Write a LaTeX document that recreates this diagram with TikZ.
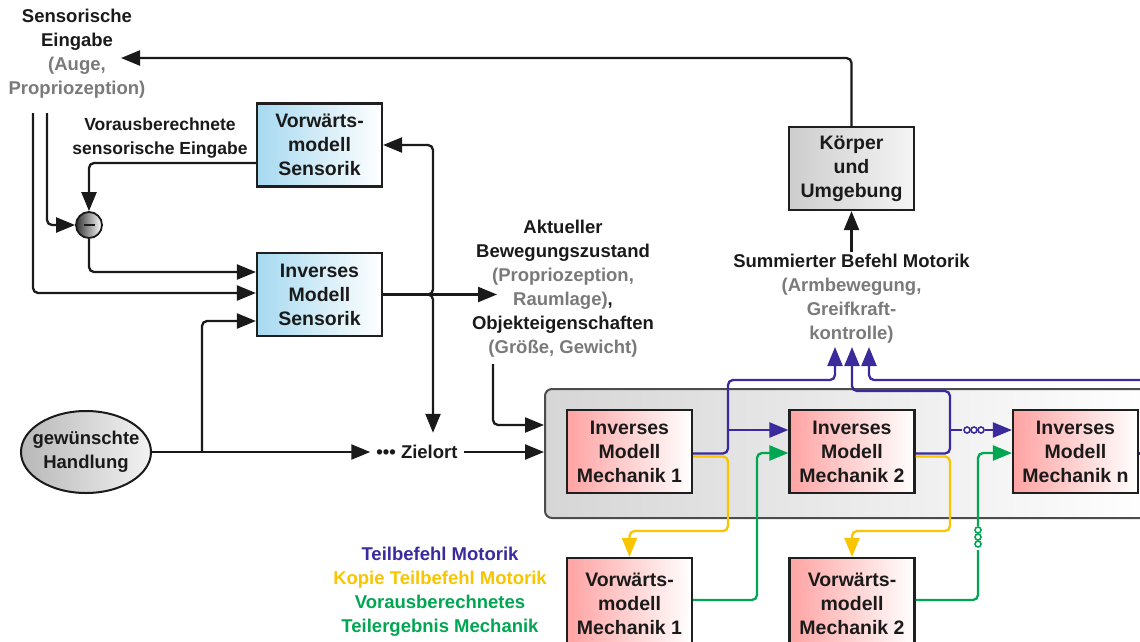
\documentclass[tikz,border=0pt]{standalone}
\usepackage{fontspec}
\setmainfont{Liberation Sans}
\usetikzlibrary{arrows.meta,shapes.geometric}
\definecolor{txt}{HTML}{1A1A1A}
\definecolor{gtxt}{HTML}{7A7A7A}
\definecolor{bl}{HTML}{3A2A9C}
\definecolor{ye}{HTML}{F8C500}
\definecolor{gr}{HTML}{00A651}
\definecolor{lblue}{HTML}{A6D9F0}
\definecolor{lpink}{HTML}{FFA3A3}
\definecolor{lgray}{HTML}{CDCDCD}
\definecolor{cgray}{HTML}{D6D6D6}
\begin{document}
\begin{tikzpicture}[x=1pt,y=-1pt,
 every node/.style={font=\fontsize{18.5}{24}\selectfont\bfseries, text=txt, align=center},
 box/.style={draw=black!88, line width=2.2pt, minimum width=125pt, minimum height=83pt, inner sep=0pt, font=\fontsize{19.5}{24}\selectfont\bfseries},
 bluebox/.style={box, left color=lblue, right color=white},
 pinkbox/.style={box, left color=lpink, right color=white},
 graybox/.style={box, left color=lgray, right color=white!96!black},
 tip/.style={-{Triangle[length=19pt,width=15pt]}},
 con/.style={line width=2.3pt, draw=txt, rounded corners=5pt},
 arr/.style={con, tip},
 bline/.style={line width=2.3pt, draw=bl, rounded corners=5pt},
 barr/.style={bline, tip},
 yline/.style={line width=2.3pt, draw=ye, rounded corners=5pt},
 yarr/.style={yline, tip},
 gline/.style={line width=2.3pt, draw=gr, rounded corners=5pt},
 garr/.style={gline, tip},
 bdot/.style={circle, draw=bl, fill=white, line width=1.6pt, minimum size=6pt, inner sep=0pt},
 gdot/.style={circle, draw=gr, fill=white, line width=1.6pt, minimum size=6pt, inner sep=0pt},
]
\clip (0,0) rectangle (1140,641);
\fill[white] (0,0) rectangle (1140,641);

% container
\node[draw=black!70, line width=2pt, rounded corners=7pt, minimum width=610pt, minimum height=129pt, left color=cgray, right color=white] (cont) at (850,453.5) {};

% boxes
\node[bluebox] (vs) at (319.5,145) {Vorwärts-\\modell\\Sensorik};
\node[bluebox] (is) at (319.5,294.5) {Inverses\\Modell\\Sensorik};
\node[graybox] (koe) at (851.5,168.5) {Körper\\und\\Umgebung};
\node[pinkbox] (im1) at (629.5,451.5) {Inverses\\Modell\\Mechanik 1};
\node[pinkbox] (im2) at (852,451.5) {Inverses\\Modell\\Mechanik 2};
\node[pinkbox] (imn) at (1075.5,451.5) {Inverses\\Modell\\Mechanik n};
\node[pinkbox, minimum height=92pt] (vm1) at (629.5,604) {Vorwärts-\\modell\\Mechanik 1};
\node[pinkbox, minimum height=92pt] (vm2) at (852,604) {Vorwärts-\\modell\\Mechanik 2};

\node[ellipse, draw=txt, line width=2pt, left color=black!28, right color=black!5, minimum width=130pt, minimum height=82pt, inner xsep=-14pt, inner ysep=0pt] (hand) at (86,452) {gewünschte\\Handlung};
\node[circle, draw=txt, line width=1.8pt, minimum size=26pt, inner sep=0pt, left color=black!80, right color=white] (minus) at (89,225) {\textcolor{txt}{\rule{11pt}{2.4pt}}};

% labels
\node (sens) at (77,54) {Sensorische\\Eingabe\\\textcolor{gtxt}{(Auge,}\\\textcolor{gtxt}{Propriozeption)}};
\node[font=\fontsize{17.5}{24}\selectfont\bfseries] (vor) at (160,138) {Vorausberechnete\\sensorische Eingabe};
\node (akt) at (563,288.5) {Aktueller\\Bewegungszustand\\\textcolor{gtxt}{(Propriozeption,}\\\textcolor{gtxt}{Raumlage)},\\Objekteigenschaften\\\textcolor{gtxt}{(Größe, Gewicht)}};
\node (sum) at (851.5,299) {Summierter Befehl Motorik\\\textcolor{gtxt}{(Armbewegung,}\\\textcolor{gtxt}{Greifkraft-}\\\textcolor{gtxt}{kontrolle)}};
\node (leg) at (440,591.5) {\textcolor{bl}{Teilbefehl Motorik}\\\textcolor{ye}{Kopie Teilbefehl Motorik}\\\textcolor{gr}{Vorausberechnetes}\\\textcolor{gr}{Teilergebnis Mechanik}};
\node[minimum height=38pt, inner xsep=6pt, inner ysep=0pt] (ziel) at (417,452) {••• Zielort};

% coordinates
\coordinate (sensArr) at (121,58);
\coordinate (s1) at (33,113);
\coordinate (s2) at (47,113);
\coordinate (br) at (202,452);
\coordinate (jn) at (433,294.5);
\coordinate (aktArr) at (497,294.5);
\coordinate (aktL) at (493,364);
\coordinate (sumTop) at (851.5,252);
\coordinate (sumIn) at (852,347);

% black connectors
\draw[arr] (koe.north) |- (sensArr);
\draw[arr] (s1) |- ([yshift=1.5pt]is.west);
\draw[arr] (s2) |- (minus.west);
\draw[arr] ([yshift=-18pt]vs.west) -| (minus.north);
\draw[arr] (minus.south) |- ([yshift=22.5pt]is.west);
\draw[arr] (hand.east) -- (ziel.west);
\draw[arr] (br) |- ([yshift=-26.5pt]is.west);
\draw[arr] (ziel.east) -- (ziel.east -| cont.west);
\draw[arr] (is.east) -- (aktArr);
\draw[arr] (is.east) -- (jn) |- (vs.east);
\draw[arr] (is.east) -- (jn) -- (jn |- ziel.north);
\draw[arr] (aktL) |- ([yshift=28.5pt]cont.west);
\draw[arr] (sumTop) -- (koe.south);

% yellow
\draw[yarr] ([yshift=-5pt]im1.east) -- (728,456.5) -- (728,531) -- (629.5,531) -- (vm1.north);
\draw[yarr] ([yshift=-5pt]im2.east) -- (950,456.5) -- (950,531) -- (852,531) -- (vm2.north);

% blue
\draw[barr] ([yshift=-2pt]im1.east) -- (728,453.5) -- (728,380) -- (835,380) -- ([xshift=-17pt]sumIn);
\draw[barr] (728,430) -- ([yshift=21.5pt]im2.west);
\draw[barr] ([yshift=-2pt]im2.east) -- (950,453.5) -- (950,391) -- (852,391) -- (sumIn);
\draw[bline] (950,430) -- (962,430);
\node[bdot] (bd1) at (967,430) {};
\node[bdot] (bd2) at (974,430) {};
\node[bdot] (bd3) at (981,430) {};
\draw[barr] (bd3.east) -- ([yshift=21.5pt]imn.west);
\draw[barr] (1150,380) -- (869,380) -- ([xshift=17pt]sumIn);
\draw[bline] ([yshift=-2pt]imn.east) -- (1150,453.5);

% green
\draw[garr] ([yshift=4pt]vm1.east) -- (757,600) -- (757,453) -- ([yshift=-1.5pt]im2.west);
\draw[gline] ([yshift=4pt]vm2.east) -- (978,600) -- (978,550);
\node[gdot] (gd1) at (978,530) {};
\node[gdot] (gd2) at (978,537) {};
\node[gdot] (gd3) at (978,544) {};
\draw[garr] (gd1.north) -- (978,453) -- ([yshift=-1.5pt]imn.west);
\end{tikzpicture}
\end{document}
